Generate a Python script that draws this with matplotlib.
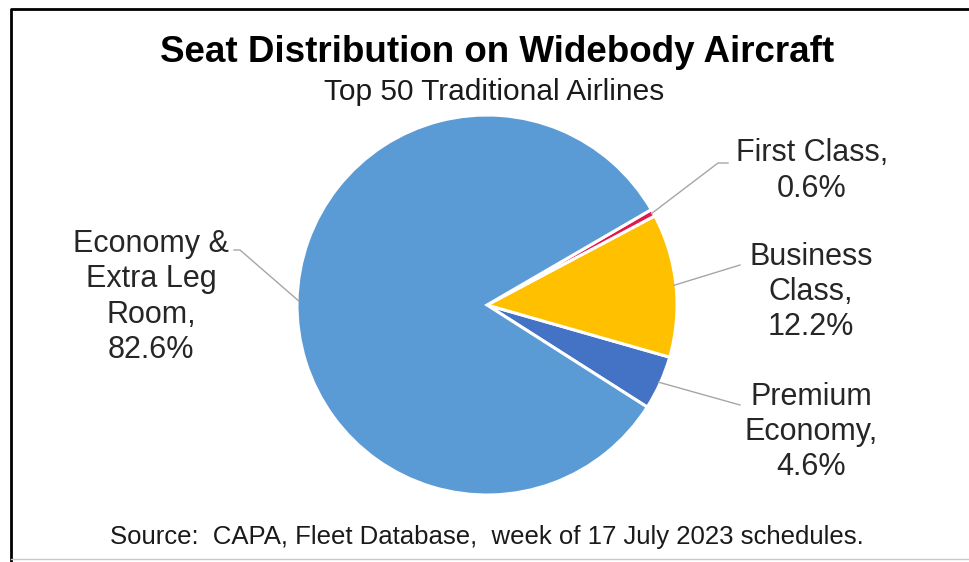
import matplotlib
matplotlib.use("Agg")
import matplotlib.pyplot as plt
from matplotlib.lines import Line2D
from matplotlib.transforms import IdentityTransform
import numpy as np

plt.rcParams['font.family'] = ['Liberation Sans', 'DejaVu Sans']

# Slice data, in drawing order (counter-clockwise from the lower right)
categories = ['Premium\nEconomy', 'Business\nClass', 'First Class', 'Economy &\nExtra Leg\nRoom']
shares = [4.6, 12.2, 0.6, 82.6]
colors = ['#4472C4', '#FFC000', '#E3174A', '#5B9BD5']

W, H = 970, 562
fig = plt.figure(figsize=(W / 100, H / 100), dpi=100)

# pie axes: centre (487, 305) px from top, radius 190 px
cx, cy, r = 487, 305, 190
ax = fig.add_axes([(cx - r) / W, (H - cy - r) / H, 2 * r / W, 2 * r / H])
wedges, _ = ax.pie(shares, colors=colors, startangle=-32.5, counterclock=True,
                   radius=1.0, wedgeprops=dict(edgecolor='white', linewidth=2.2))
ax.set_xlim(-1, 1)
ax.set_ylim(-1, 1)
ax.set_aspect('equal')
ax.axis('off')

# label text positions and leader elbows (pixels from top-left)
label_pos = [(811, 432), (811, 292), (812, 171), (151, 297)]
elbows = [[(740, 405)], [(740, 265)], [(718, 163), (728, 163)], [(240, 250), (234, 250)]]

for w, cat, val, (lx, ly), elb in zip(wedges, categories, shares, label_pos, elbows):
    mid = np.deg2rad((w.theta1 + w.theta2) / 2)
    x0, y0 = ax.transData.transform((np.cos(mid) * 0.99, np.sin(mid) * 0.99))
    xs = [x0] + [p[0] for p in elb]
    ys = [y0] + [H - p[1] for p in elb]
    fig.add_artist(Line2D(xs, ys, transform=IdentityTransform(), color='#A6A6A6', lw=1.0))
    fig.text(lx / W, 1 - ly / H, f"{cat},\n{val}%", ha='center', va='center',
             fontsize=22, color='#262626', linespacing=1.22)

fig.text(497 / W, 1 - 52 / H, 'Seat Distribution on Widebody Aircraft', ha='center', va='center',
         fontsize=26.5, fontweight='bold', color='black')
fig.text(494 / W, 1 - 92 / H, 'Top 50 Traditional Airlines', ha='center', va='center',
         fontsize=21.5, color='#1a1a1a')
fig.text(487 / W, 1 - 537 / H, 'Source:  CAPA, Fleet Database,  week of 17 July 2023 schedules.',
         ha='center', va='center', fontsize=18.5, color='#1a1a1a')

# chart frame
fig.add_artist(Line2D([11, 11, W], [0, H - 9, H - 9], transform=IdentityTransform(),
                      color='black', lw=2))
fig.add_artist(Line2D([11, W], [3, 3], transform=IdentityTransform(), color='#C8C8C8', lw=1))

fig.savefig('out.png', dpi=100, facecolor='white')
